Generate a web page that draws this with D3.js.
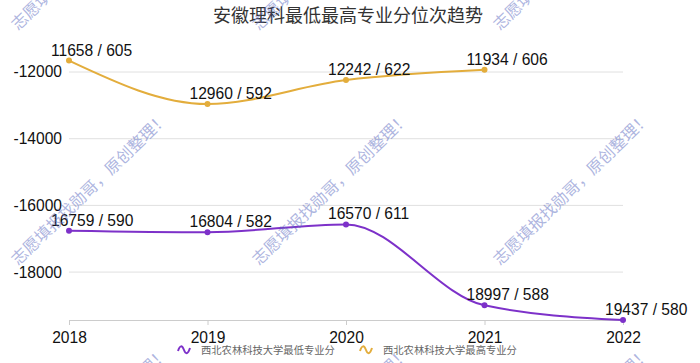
<!DOCTYPE html>
<html><head><meta charset="utf-8">
<script src="https://cdn.jsdelivr.net/npm/d3@7"></script>
<style>
html,body{margin:0;padding:0;background:#fff;}
svg{display:block;}
</style></head>
<body>
<svg id="chart" width="700" height="363"></svg>
<script>
const title = "安徽理科最低最高专业分位次趋势";
const years = ["2018","2019","2020","2021","2022"];
const minRank = [16759,16804,16570,18997,19437];
const minScore = [590,582,611,588,580];
const maxRank = [11658,12960,12242,11934,null];
const maxScore = [605,592,622,606,null];
const yTicks = [-12000,-14000,-16000,-18000];
const seriesNames = ["西北农林科技大学最低专业分","西北农林科技大学最高专业分"];
const seriesColors = ["#7d31c9","#e3ad3c"];
const watermarkText = "志愿填报找勋哥，原创整理！";

(function(){
const svg = d3.select("#chart");
const mLeft = 69, mRight = 623, mTop = 60.6, mBottom = 320;

const x = d3.scalePoint().domain(years).range([mLeft, mRight]);
const allVals = minRank.concat(maxRank.filter(v => v != null)).map(v => -v);
const y = d3.scaleLinear().domain([d3.min(allVals), d3.max(allVals)]).range([mBottom, mTop]);

const numFont = "'Liberation Sans', Arial, Helvetica, sans-serif";
const cjkFont = "'Noto Sans CJK SC', 'Noto Sans', sans-serif";

// title
svg.append("text").attr("x", 348).attr("y", 22).attr("text-anchor", "middle")
  .attr("font-family", cjkFont).attr("font-size", 18).attr("fill", "#333").text(title);

// grid
svg.append("g").selectAll("line").data(yTicks).join("line")
  .attr("x1", mLeft).attr("x2", mRight)
  .attr("y1", d => y(d)).attr("y2", d => y(d))
  .attr("stroke", "#e0e0e0").attr("stroke-width", 1);

// y labels
svg.append("g").selectAll("text").data(yTicks).join("text")
  .attr("x", 62).attr("y", d => y(d)).attr("dy", "0.35em")
  .attr("text-anchor", "end").attr("font-family", numFont).attr("font-size", 15.6)
  .attr("fill", "#111").text(d => d);

// x axis
const xAxis = svg.append("g").attr("transform", `translate(0,${mBottom})`)
  .call(d3.axisBottom(x).tickSize(5).tickPadding(7));
xAxis.select(".domain").attr("stroke", "#cccccc").attr("d", `M${mLeft},0.5H${mRight}`);
xAxis.selectAll(".tick line").attr("stroke", "#cccccc");
xAxis.selectAll(".tick text").attr("font-family", numFont).attr("font-size", 15.6).attr("fill", "#111");

// series
const series = [
  {rank: minRank, score: minScore, color: seriesColors[0]},
  {rank: maxRank, score: maxScore, color: seriesColors[1]}
];
const line = d3.line().defined(d => d.r != null)
  .x(d => x(d.year)).y(d => y(-d.r)).curve(d3.curveMonotoneX);

series.forEach(s => {
  const pts = years.map((yr, i) => ({year: yr, r: s.rank[i], sc: s.score[i]}));
  const valid = pts.filter(d => d.r != null);
  svg.append("path").datum(pts).attr("d", line)
    .attr("fill", "none").attr("stroke", s.color).attr("stroke-width", 2);
  svg.append("g").selectAll("circle").data(valid).join("circle")
    .attr("cx", d => x(d.year)).attr("cy", d => y(-d.r)).attr("r", 3)
    .attr("fill", s.color);
  svg.append("g").selectAll("text").data(valid).join("text")
    .attr("x", d => x(d.year) - 18).attr("y", d => y(-d.r) - 5)
    .attr("font-family", numFont).attr("font-size", 15.6).attr("fill", "#111")
    .text(d => `${d.r} / ${d.sc}`);
});

// legend
const legendX = [178, 360];
seriesNames.forEach((name, i) => {
  const lx = legendX[i], ly = 350;
  svg.append("path")
    .attr("d", `M${lx},${ly+1} C${lx+2},${ly-5} ${lx+4},${ly-5} ${lx+6},${ly} S${lx+10},${ly+4} ${lx+12},${ly-2}`)
    .attr("fill", "none").attr("stroke", seriesColors[i]).attr("stroke-width", 2);
  svg.append("text").attr("x", lx + 23).attr("y", ly + 4)
    .attr("font-family", cjkFont).attr("font-size", 10.3).attr("fill", "#666").text(name);
});

// watermarks
const wm = svg.append("g").attr("pointer-events", "none");
const wmX = [18, 259, 500], wmY = [31, 266, 501];
wmY.forEach(wy => wmX.forEach(wx => {
  wm.append("text").attr("transform", `translate(${wx},${wy}) rotate(-44)`)
    .attr("font-family", cjkFont).attr("font-size", 16.2)
    .attr("fill", "#5c6bc0").attr("fill-opacity", 0.5).text(watermarkText);
}));
})();
</script>
</body></html>
